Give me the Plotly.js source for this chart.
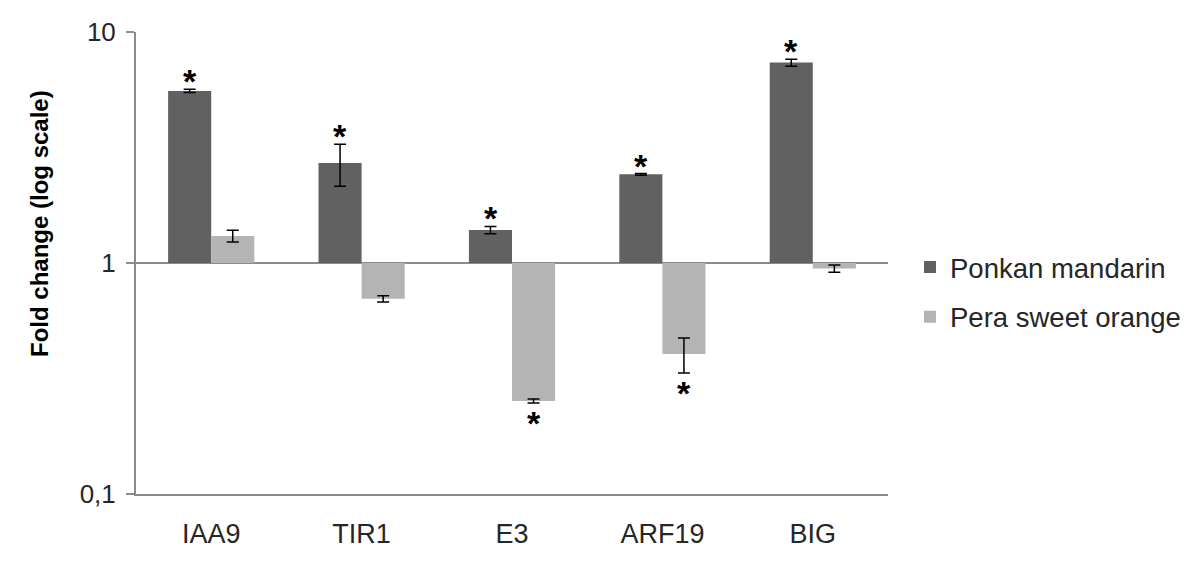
<!DOCTYPE html>
<html>
<head>
<meta charset="utf-8">
<script src="https://cdn.plot.ly/plotly-3.0.1.min.js"></script>
<style>html,body{margin:0;padding:0;background:#fff;}#chart{width:1200px;height:567px;}</style>
</head>
<body>
<div id="chart"></div>
<script>
// Data
const genes = ['IAA9', 'TIR1', 'E3', 'ARF19', 'BIG'];
const ponkanValues = [5.56, 2.71, 1.39, 2.42, 7.37];
const ponkanErrors = [0.09, 0.56, 0.05, 0.02, 0.26];
const ponkanSignif = [true, true, true, true, true];
const peraValues = [1.31, 0.70, 0.253, 0.404, 0.946];
const peraErrors = [0.076, 0.022, 0.005, 0.07, 0.034];
const peraSignif = [false, false, true, true, false];
const yTickVals = [0.1, 1, 10];
const yTickText = ['0,1', '1', '10'];
const yTitle = 'Fold change (log scale)';

const FONT = 'Liberation Sans, Arial, sans-serif';

function barTrace(name, vals, errs, color) {
  return {
    type: 'bar', name: name, x: genes,
    y: vals.map(v => v - 1), base: 1,
    marker: {color: color, line: {width: 0}},
    error_y: {type: 'data', array: errs, visible: true, color: '#000', thickness: 1.5, width: 6},
    legendgroup: name, hoverinfo: 'skip'
  };
}

const traces = [
  barTrace('Ponkan mandarin', ponkanValues, ponkanErrors, '#616161'),
  barTrace('Pera sweet orange', peraValues, peraErrors, '#b4b4b4')
];

const annotations = [];
function addStars(vals, errs, sig, shift) {
  vals.forEach((v, i) => {
    if (!sig[i]) return;
    const up = v >= 1;
    const end = up ? v + errs[i] : v - errs[i];
    annotations.push({
      x: genes[i], y: Math.log10(end), xref: 'x', yref: 'y',
      text: '*', showarrow: false,
      xshift: shift, yshift: up ? -13 : 1,
      yanchor: up ? 'bottom' : 'top',
      font: {family: FONT, size: 34, color: '#000', weight: 'bold'}
    });
  });
}
addStars(ponkanValues, ponkanErrors, ponkanSignif, -21.5);
addStars(peraValues, peraErrors, peraSignif, 21.5);

annotations.push({
  xref: 'paper', yref: 'paper', x: (39 - 136) / 752, y: (494 - 224) / 462,
  xanchor: 'center', yanchor: 'middle', textangle: -90, showarrow: false,
  text: yTitle,
  font: {family: FONT, size: 24, color: '#000', weight: 'bold'}
});

const layout = {
  width: 1200, height: 567,
  margin: {l: 136, r: 312, t: 32, b: 73},
  paper_bgcolor: '#fff', plot_bgcolor: '#fff',
  font: {family: FONT, color: '#262626'},
  showlegend: true,
  barmode: 'group', bargap: 0.427, bargroupgap: 0,
  xaxis: {
    type: 'category', showgrid: false, zeroline: false,
    showline: true, linecolor: '#8c8c8c', linewidth: 2,
    ticks: '', ticklabelstandoff: 15,
    tickfont: {family: FONT, size: 27, color: '#262626'}
  },
  yaxis: {
    type: 'log', range: [-1, 1],
    tickvals: yTickVals, ticktext: yTickText,
    showgrid: true, gridcolor: '#8c8c8c', gridwidth: 2,
    showline: true, linecolor: '#8c8c8c', linewidth: 2,
    ticks: 'outside', ticklen: 8, tickcolor: '#8c8c8c', tickwidth: 2,
    ticklabelstandoff: 5, zeroline: false,
    tickfont: {family: FONT, size: 26, color: '#262626'}
  },
  legend: {
    xref: 'container', yref: 'container',
    x: 910 / 1200, y: 1 - 292 / 567, xanchor: 'left', yanchor: 'middle',
    traceorder: 'grouped', tracegroupgap: 11,
    font: {family: FONT, size: 27.5, color: '#262626'},
    bgcolor: 'rgba(0,0,0,0)'
  },
  annotations: annotations
};

Plotly.newPlot('chart', traces, layout, {displayModeBar: false, staticPlot: true});
</script>
</body>
</html>
